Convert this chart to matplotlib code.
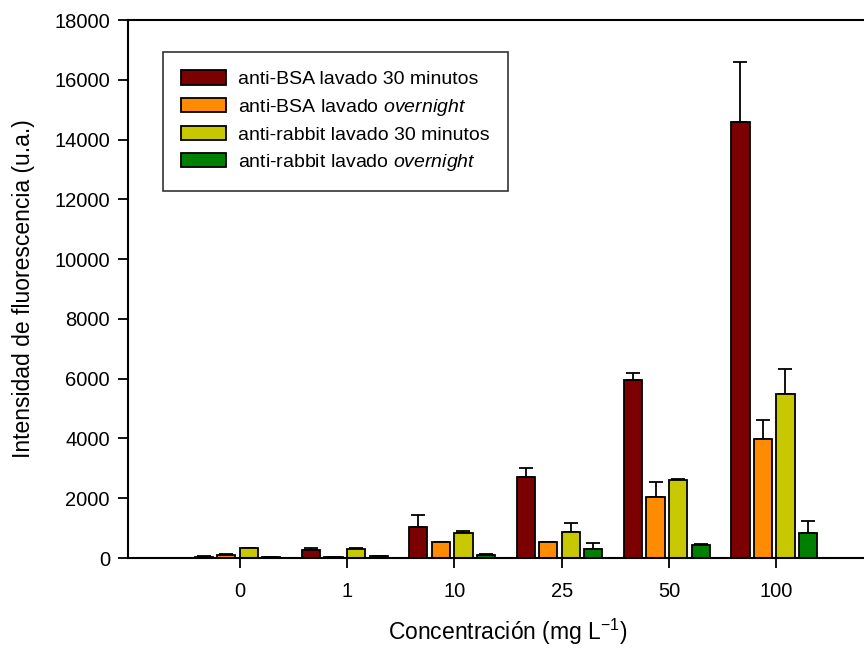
import numpy as np
import matplotlib
matplotlib.use('Agg')
import matplotlib.pyplot as plt

plt.rcParams['font.family'] = ['Liberation Sans', 'DejaVu Sans']
plt.rcParams['mathtext.fontset'] = 'custom'
plt.rcParams['mathtext.rm'] = 'Liberation Sans'
plt.rcParams['mathtext.it'] = 'Liberation Sans:italic'

# ── DATA ─────────────────────────────────────────────────────────────────────
concentrations = ['0', '1', '10', '25', '50', '100']

bsa_30      = [50, 280, 1050, 2720, 5960, 14600]
bsa_30_err  = [20, 40, 400, 300, 240, 2000]
bsa_on      = [100, 30, 520, 520, 2040, 3970]
bsa_on_err  = [20, 20, 30, 30, 500, 650]
rab_30      = [320, 290, 850, 880, 2600, 5500]
rab_30_err  = [30, 40, 40, 280, 50, 840]
rab_on      = [30, 60, 100, 300, 440, 820]
rab_on_err  = [20, 20, 40, 190, 40, 420]

series = [
    (bsa_30, bsa_30_err, '#7b0000', 'anti-BSA lavado 30 minutos'),
    (bsa_on, bsa_on_err, '#ff8c00', 'anti-BSA lavado $\\it{overnight}$'),
    (rab_30, rab_30_err, '#c8c800', 'anti-rabbit lavado 30 minutos'),
    (rab_on, rab_on_err, '#008000', 'anti-rabbit lavado $\\it{overnight}$'),
]

# ── PLOT ─────────────────────────────────────────────────────────────────────
fig = plt.figure(figsize=(8.64, 6.48), dpi=100)
ax = fig.add_axes([128 / 864, 1 - 558 / 648, 760 / 864, 538 / 648])

x = np.arange(len(concentrations))
pitch = 0.21
width = 0.17
for k, (vals, errs, color, label) in enumerate(series):
    pos = x + (k - 1.5) * pitch - 0.02
    ax.bar(pos, vals, width, color=color, edgecolor='black', linewidth=1.3,
           label=label, zorder=2)
    ax.errorbar(pos, vals, yerr=[np.zeros(len(errs)), errs], fmt='none',
                ecolor='black', elinewidth=1.3, capsize=5, capthick=1.3, zorder=1)

ax.set_xlim(-1.04, 6.04)
ax.set_ylim(0, 18000)
ax.set_yticks(np.arange(0, 18001, 2000))
ax.set_xticks(x)
ax.set_xticklabels(concentrations)
ax.tick_params(direction='out', length=7, width=1.3, labelsize=14.5)
ax.tick_params(axis='x', pad=10)
ax.tick_params(axis='y', pad=6)
for side in ['left', 'bottom', 'top']:
    ax.spines[side].set_linewidth(1.5)
ax.spines['right'].set_visible(False)

ax.set_ylabel('Intensidad de fluorescencia (u.a.)', fontsize=16.5, labelpad=14)
ax.set_xlabel('Concentración (mg L$^{-1}$)', fontsize=16.5, labelpad=12)

leg = ax.legend(loc='upper left', bbox_to_anchor=(0.046, 0.9405), fontsize=14,
                frameon=True, fancybox=False, edgecolor='black',
                borderaxespad=0,
                handlelength=2.3, handleheight=0.75, borderpad=0.95,
                labelspacing=0.42, handletextpad=0.6)
leg.get_frame().set_linewidth(1.2)

fig.savefig('out.png', dpi=100)
